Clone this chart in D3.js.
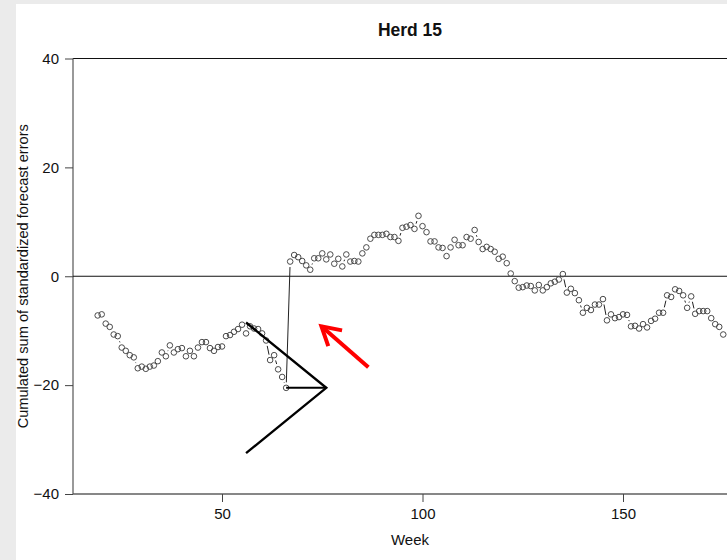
<!DOCTYPE html>
<html>
<head>
<meta charset="utf-8">
<script src="https://cdn.jsdelivr.net/npm/d3@7"></script>
<style>
  html, body { margin: 0; padding: 0; background: #fff; }
  svg { display: block; font-family: "Liberation Sans", Arial, sans-serif; }
</style>
</head>
<body>
<svg id="chart" width="727" height="560"></svg>
<script>
// Weekly CUSUM of standardized forecast errors, herd 15
const firstWeek = 19;
const cusum = [
  -7.2, -7.0, -8.7, -9.3, -10.7, -11.0, -13.1, -13.7, -14.5, -14.9,
  -16.9, -16.6, -17.0, -16.6, -16.4, -15.6, -14.0, -14.7, -12.7, -14.0,
  -13.4, -13.2, -14.7, -13.7, -14.7, -13.1, -12.1, -12.1, -13.2, -13.7,
  -13.0, -12.9, -11.0, -10.8, -10.2, -9.7, -8.9, -10.5, -9.2, -9.6,
  -9.7, -10.5, -11.8, -15.4, -14.5, -17.1, -18.5, -20.5,
  2.7, 3.9, 3.5, 2.8, 2.0, 1.2, 3.3, 3.3, 4.2, 3.1,
  4.0, 2.3, 3.2, 1.8, 4.0, 2.7, 2.8, 2.7, 4.2, 5.3,
  6.9, 7.6, 7.6, 7.6, 7.8, 7.2, 7.2, 6.5, 8.9, 9.1,
  9.4, 8.7, 11.1, 9.2, 8.1, 6.4, 6.4, 5.3, 5.2, 3.7,
  5.3, 6.7, 5.7, 5.7, 7.2, 6.9, 8.5, 6.3, 5.0, 5.4,
  5.0, 4.5, 3.2, 3.6, 2.4, 0.5, -0.9, -2.1, -2.0, -1.7,
  -1.8, -2.6, -1.6, -2.6, -2.0, -1.3, -1.0, -0.6, 0.4, -3.0,
  -2.3, -3.1, -4.4, -6.7, -5.8, -6.2, -5.2, -5.2, -4.2, -8.1,
  -7.0, -7.7, -7.5, -7.0, -7.1, -9.2, -9.1, -9.6, -8.8, -9.4,
  -8.2, -7.8, -6.7, -6.7, -3.5, -3.8, -2.4, -2.7, -3.5, -5.8,
  -3.7, -6.9, -6.4, -6.4, -6.4, -7.7, -8.8, -9.3, -10.7
];

// Tick labels
const xTicks = [50, 100, 150];
const yTicks = [-40, -20, 0, 20, 40];

// V-mask: arms meeting at the vertex, and the lead from the last point to the vertex
const vMask = [[56, -8.5], [76, -20.5], [56, -32.5]];
const vLead = [[66, -20.5], [76, -20.5]];

// Annotation arrow: tail and tip
const arrow = [[86.5, -16.7], [74.8, -9.2]];

const W = 727, H = 560;
const svg = d3.select("#chart");

const plotLeft = 73, plotTop = 58.5, plotBottom = 494;
const x = d3.scaleLinear().domain([50, 150]).range([222, 623]);
const y = d3.scaleLinear().domain([-40, 40]).range([plotBottom, plotTop]);

// Page margins in light grey
svg.append("rect").attr("x", 0).attr("y", 0).attr("width", W).attr("height", H).attr("fill", "#fff");
svg.append("rect").attr("x", 0).attr("y", 0).attr("width", 16).attr("height", H).attr("fill", "#ebebeb");
svg.append("rect").attr("x", 0).attr("y", 0).attr("width", W).attr("height", 4).attr("fill", "#ebebeb");

// Plot frame (open to the right)
const frame = svg.append("g").attr("stroke", "#111").attr("stroke-width", 1.2).attr("fill", "none");
frame.append("line").attr("x1", plotLeft).attr("x2", W + 5).attr("y1", plotTop).attr("y2", plotTop);
frame.append("line").attr("x1", plotLeft).attr("x2", W + 5).attr("y1", plotBottom).attr("y2", plotBottom);
frame.append("line").attr("x1", plotLeft).attr("x2", plotLeft).attr("y1", plotTop).attr("y2", plotBottom).attr("stroke", "#555");

// Axes
const fmt = d3.format("d");
const yAxis = svg.append("g")
  .attr("transform", `translate(${plotLeft},0)`)
  .call(d3.axisLeft(y).tickValues(yTicks).tickFormat(fmt).tickSize(8).tickSizeOuter(0).tickPadding(6));
yAxis.select(".domain").remove();
yAxis.selectAll("text").attr("font-size", 15).attr("fill", "#111").attr("font-family", "Liberation Sans, Arial, sans-serif");
yAxis.selectAll("line").attr("stroke", "#444");

const xAxis = svg.append("g")
  .attr("transform", `translate(0,${plotBottom})`)
  .call(d3.axisBottom(x).tickValues(xTicks).tickFormat(fmt).tickSize(8).tickSizeOuter(0).tickPadding(6));
xAxis.select(".domain").remove();
xAxis.selectAll("text").attr("font-size", 15).attr("fill", "#111").attr("font-family", "Liberation Sans, Arial, sans-serif");
xAxis.selectAll("line").attr("stroke", "#444");

// Titles
svg.append("text").attr("x", 410).attr("y", 36).attr("text-anchor", "middle")
  .attr("font-size", 17.5).attr("font-weight", "bold").attr("fill", "#111").text("Herd 15");
svg.append("text").attr("x", 410).attr("y", 545).attr("text-anchor", "middle")
  .attr("font-size", 15).attr("fill", "#111").text("Week");
svg.append("text").attr("transform", `translate(28,${y(0)}) rotate(-90)`).attr("text-anchor", "middle")
  .attr("font-size", 14.6).attr("fill", "#111").text("Cumulated sum of standardized forecast errors");

// Clip region for data marks
svg.append("defs").append("clipPath").attr("id", "plotClip")
  .append("rect").attr("x", plotLeft).attr("y", plotTop).attr("width", W - plotLeft).attr("height", plotBottom - plotTop);
const plot = svg.append("g").attr("clip-path", "url(#plotClip)");

// Zero reference line
plot.append("line").attr("x1", plotLeft).attr("x2", W).attr("y1", y(0)).attr("y2", y(0))
  .attr("stroke", "#111").attr("stroke-width", 1.2);

const pts = cusum.map((v, i) => ({ week: firstWeek + i, value: v }));
const px = pts.map(d => [x(d.week), y(d.value)]);

// Connecting segments, broken around each point
const gap = 5.5;
const segs = [];
for (let i = 1; i < px.length; i++) {
  const [x0, y0] = px[i - 1], [x1, y1] = px[i];
  const dx = x1 - x0, dy = y1 - y0, d = Math.hypot(dx, dy);
  if (d > 2 * gap) {
    const ux = dx / d, uy = dy / d;
    segs.push([x0 + ux * gap, y0 + uy * gap, x1 - ux * gap, y1 - uy * gap]);
  }
}
plot.append("g").selectAll("line").data(segs).join("line")
  .attr("x1", d => d[0]).attr("y1", d => d[1]).attr("x2", d => d[2]).attr("y2", d => d[3])
  .attr("stroke", "#222").attr("stroke-width", 1);

// CUSUM points
plot.append("g").selectAll("circle").data(pts).join("circle")
  .attr("cx", d => x(d.week)).attr("cy", d => y(d.value)).attr("r", 2.8)
  .attr("fill", "none").attr("stroke", "#4a4a4a").attr("stroke-width", 1);

// V-mask
const line = d3.line().x(d => x(d[0])).y(d => y(d[1]));
plot.append("path").attr("d", line(vMask)).attr("fill", "none")
  .attr("stroke", "#000").attr("stroke-width", 2.4).attr("stroke-linejoin", "miter");
plot.append("path").attr("d", line(vLead)).attr("fill", "none")
  .attr("stroke", "#000").attr("stroke-width", 2);

// Red arrow
const [tx, ty] = [x(arrow[0][0]), y(arrow[0][1])];
const [hx, hy] = [x(arrow[1][0]), y(arrow[1][1])];
const ang = Math.atan2(ty - hy, tx - hx);
const headLen = 21, headAng = Math.PI / 6;
const red = plot.append("g").attr("stroke", "#f00").attr("stroke-width", 4).attr("stroke-linecap", "butt").attr("fill", "none");
red.append("line").attr("x1", tx).attr("y1", ty).attr("x2", hx).attr("y2", hy);
red.append("path").attr("d", d3.line()([
  [hx + headLen * Math.cos(ang - headAng), hy + headLen * Math.sin(ang - headAng)],
  [hx, hy],
  [hx + headLen * Math.cos(ang + headAng), hy + headLen * Math.sin(ang + headAng)]
])).attr("stroke-linejoin", "miter");
</script>
</body>
</html>
